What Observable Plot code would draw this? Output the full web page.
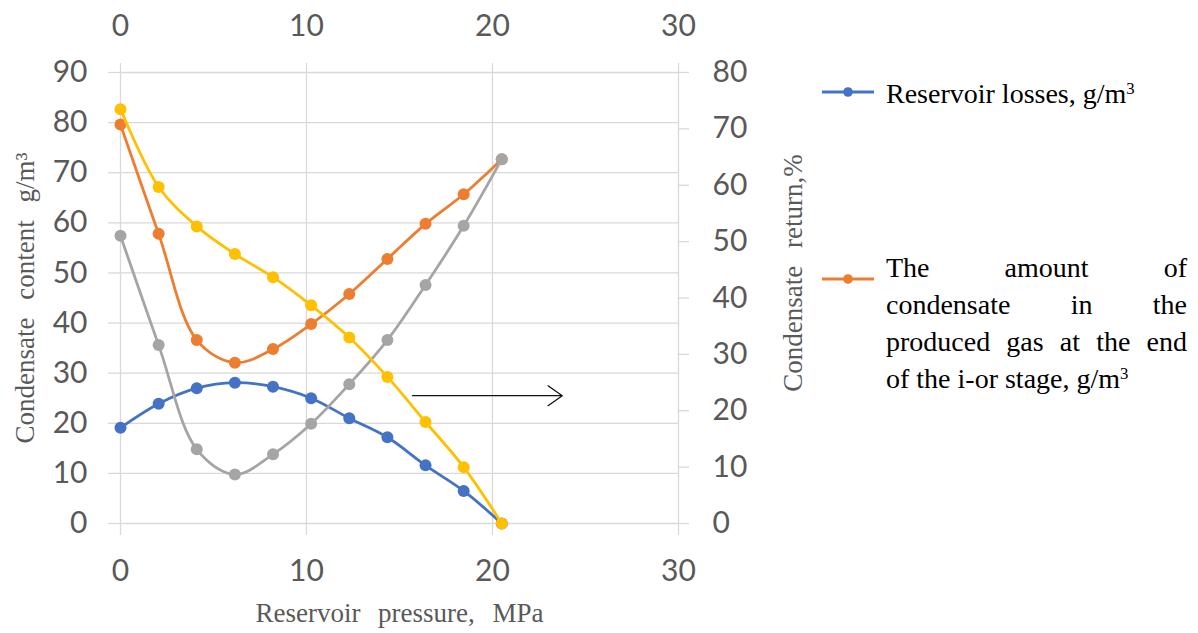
<!DOCTYPE html>
<html><head><meta charset="utf-8">
<script src="https://cdn.jsdelivr.net/npm/d3@7"></script>
<script src="https://cdn.jsdelivr.net/npm/@observablehq/plot@0.6"></script>
<style>
body{margin:0;background:#fff;}
#wrap{position:relative;width:1198px;height:633px;overflow:hidden;}
.leg{position:absolute;font-family:"Liberation Serif","Times New Roman",serif;font-size:28px;line-height:37px;color:#000;}
.leg sup{font-size:60%;line-height:0;vertical-align:0.55em;}
.jl{text-align:justify;text-align-last:justify;}
.sym{position:absolute;}
</style></head><body><div id="wrap"></div>
<script>
// ---- data ----
const pressure = [0, 2.05, 4.1, 6.15, 8.2, 10.25, 12.3, 14.35, 16.4, 18.45, 20.5];
const reservoirLosses = [19.1, 23.9, 27.0, 28.1, 27.3, 25.0, 21.0, 17.2, 11.6, 6.5, 0];
const condensateProduced = [79.6, 57.8, 36.6, 32.1, 34.8, 39.8, 45.8, 52.8, 59.8, 65.7, 72.7];
const condensateGray = [57.4, 35.6, 14.8, 9.8, 13.8, 19.9, 27.8, 36.6, 47.6, 59.4, 72.7];
const condensateReturnPct = [73.5, 59.7, 52.7, 47.8, 43.7, 38.7, 33.0, 26.0, 18.0, 10.0, 0];
const xTicks = [0, 10, 20, 30];
const leftTicks = [0, 10, 20, 30, 40, 50, 60, 70, 80, 90];
const rightTicks = [0, 10, 20, 30, 40, 50, 60, 70, 80];
const arrowNote = [{x1: 15.7, x2: 23.75, y: 25.5}];
const legendLines = [["Reservoir losses, g/m"], ["The amount of", "condensate in the", "produced gas at the end", "of the i-or stage, g/m"]];

const leftMax = 90, rightMax = 80;
const k = leftMax / rightMax; // right-axis value -> left-axis value

const seriesDefs = [
  {name: "losses", values: reservoirLosses, color: "#4472C4", right: false},
  {name: "produced", values: condensateProduced, color: "#ED7D31", right: false},
  {name: "gray", values: condensateGray, color: "#A5A5A5", right: false},
  {name: "return", values: condensateReturnPct, color: "#FFC000", right: true}
];

const marks = [];
const grid = "#d9d9d9", txt = "#595959";
marks.push(Plot.gridY(leftTicks, {stroke: grid, strokeOpacity: 1, strokeWidth: 1.3}));
marks.push(Plot.gridX(xTicks, {stroke: grid, strokeOpacity: 1, strokeWidth: 1.3}));
const tickFont = {fontSize: 30, fontFamily: "Lato, 'Open Sans', sans-serif", fill: txt, stroke: grid, strokeOpacity: 1, strokeWidth: 1.3, label: null};
marks.push(Plot.axisX(xTicks, {...tickFont, anchor: "bottom", tickSize: 12, tickPadding: 24}));
marks.push(Plot.axisX(xTicks, {...tickFont, anchor: "top", tickSize: 10, tickPadding: 27}));
marks.push(Plot.axisY(leftTicks, {...tickFont, anchor: "left", tickSize: 12, tickPadding: 21}));
marks.push(Plot.axisY(rightTicks.map(r => r * k), {...tickFont, anchor: "right", tickSize: 10, tickPadding: 24, tickFormat: d => String(Math.round(d / k))}));

for (const s of seriesDefs) {
  const rows = pressure.map((p, i) => ({x: p, y: s.right ? s.values[i] * k : s.values[i]}));
  marks.push(Plot.line(rows, {x: "x", y: "y", stroke: s.color, strokeWidth: 2.8, curve: "catmull-rom"}));
  marks.push(Plot.dot(rows, {x: "x", y: "y", fill: s.color, r: 6}));
}

marks.push(Plot.arrow(arrowNote, {x1: "x1", x2: "x2", y1: "y", y2: "y", stroke: "#111", strokeWidth: 1.3, headLength: 20, headAngle: 70, bend: 0}));

const titleFont = {fontFamily: "'Liberation Serif', 'Times New Roman', serif", fontSize: 27, fill: txt, textAnchor: "middle", lineAnchor: "middle"};
marks.push(Plot.text(["Reservoir pressure, MPa"], {...titleFont, frameAnchor: "bottom", dy: 90}));
marks.push(Plot.text(["Condensate content g/m³"], {...titleFont, frameAnchor: "left", rotate: -90, dx: -95}));
marks.push(Plot.text(["Condensate return,%"], {...titleFont, frameAnchor: "right", rotate: -90, dx: 115, dy: -25}));

const chart = Plot.plot({
  width: 1198, height: 633,
  marginLeft: 120, marginRight: 520, marginTop: 72, marginBottom: 110,
  x: {domain: [0, 30], axis: null},
  y: {domain: [0, leftMax], axis: null},
  style: {background: "#fff", wordSpacing: "11px", overflow: "visible"},
  marks
});
const wrap = document.getElementById("wrap");
wrap.appendChild(chart);

// legend
function sym(color, top) {
  const ns = "http://www.w3.org/2000/svg";
  const s = document.createElementNS(ns, "svg");
  s.setAttribute("width", 56); s.setAttribute("height", 14);
  s.setAttribute("class", "sym");
  s.style.left = "820px"; s.style.top = (top - 7) + "px";
  const l = document.createElementNS(ns, "line");
  l.setAttribute("x1", 2); l.setAttribute("x2", 54); l.setAttribute("y1", 7); l.setAttribute("y2", 7);
  l.setAttribute("stroke", color); l.setAttribute("stroke-width", 2.8);
  const c = document.createElementNS(ns, "circle");
  c.setAttribute("cx", 28); c.setAttribute("cy", 7); c.setAttribute("r", 4.8); c.setAttribute("fill", color);
  s.appendChild(l); s.appendChild(c);
  wrap.appendChild(s);
}
sym(seriesDefs[0].color, 92);
sym(seriesDefs[1].color, 279);
function legendBlock(lines, top, width) {
  const d = document.createElement("div");
  d.className = "leg";
  d.style.left = "886px"; d.style.top = top + "px";
  if (width) d.style.width = width + "px";
  d.innerHTML = lines.map((t, i) => i < lines.length - 1 ? `<div class="jl">${t}</div>` : `<div>${t}<sup>3</sup></div>`).join("");
  wrap.appendChild(d);
}
legendBlock(legendLines[0], 75);
legendBlock(legendLines[1], 249, 301);
</script></body></html>
